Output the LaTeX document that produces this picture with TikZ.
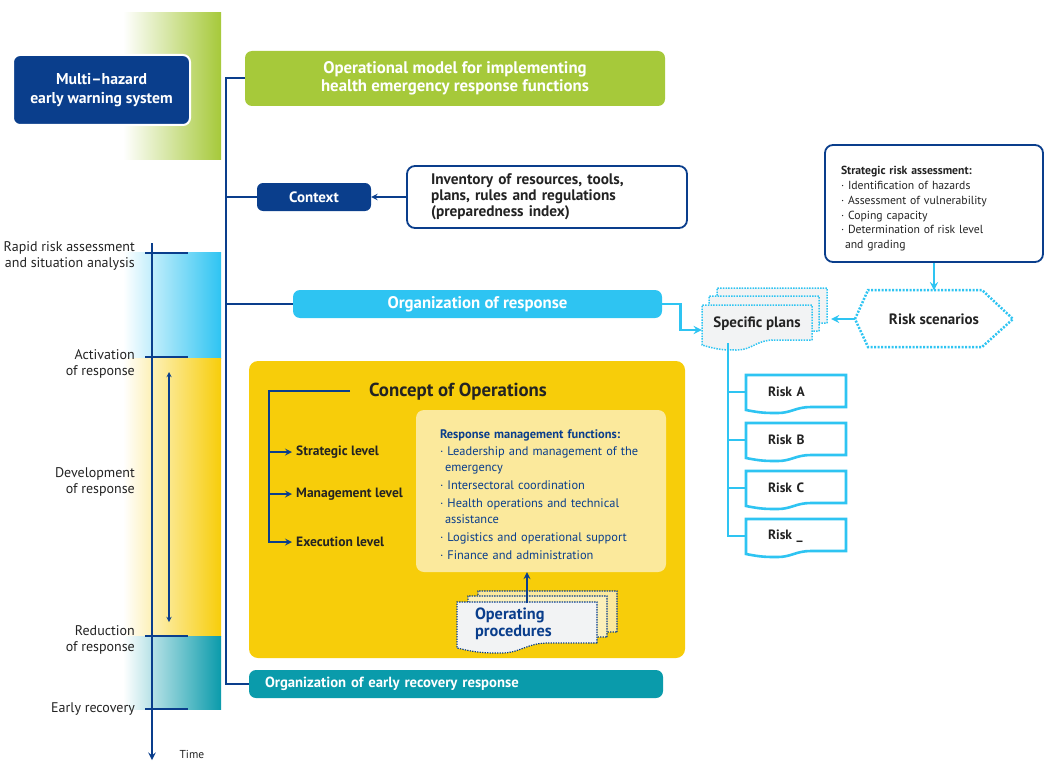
\documentclass[tikz,border=0pt]{standalone}
\usepackage{fontspec}
\setmainfont{PT Sans}
\usetikzlibrary{calc}

\definecolor{whoblue}{RGB}{10,62,140}
\definecolor{leafgreen}{RGB}{166,201,58}
\definecolor{skyblue}{RGB}{46,196,242}
\definecolor{sunyellow}{RGB}{247,205,10}
\definecolor{paleyellow}{RGB}{251,233,156}
\definecolor{seateal}{RGB}{10,155,171}
\definecolor{papergray}{RGB}{242,243,244}
\definecolor{inkgray}{RGB}{35,35,35}

\newcommand{\fsz}[2]{\fontsize{#1}{#2}\selectfont}

% document sheet with a wavy lower edge: style, x1, y1, x2, y2, depth
\newcommand{\wavydoc}[6]{%
  \draw[#1] (#4,#5) -- (#4,#3) -- (#2,#3) -- ({#2},{#5+0.5*#6})
    .. controls ({#2+0.15*(#4-#2)},{#5+#6}) and ({#2+0.2*(#4-#2)},{#5+#6}) .. ({#2+0.32*(#4-#2)},{#5+#6})
    .. controls ({#2+0.45*(#4-#2)},{#5+#6}) and ({#2+0.5*(#4-#2)},{#5}) .. ({#2+0.65*(#4-#2)},{#5})
    -- cycle;}

\begin{document}
\begin{tikzpicture}[x=1pt, y=-1pt, >=stealth,
    bandlabel/.style={anchor=east, align=right, font=\fsz{14}{16}, text=inkgray, inner sep=1pt},
    timetick/.style={whoblue, line width=2.5pt},
    trunk/.style={whoblue, line width=2pt},
    skyline/.style={skyblue, line width=2.6pt},
    bar/.style={rounded corners=7pt, text=white, font=\bfseries\fsz{16.8}{18}},
    outlinebox/.style={draw=whoblue, line width=1.8pt, fill=white, rounded corners=8pt, align=left, text=inkgray},
    riskdoc/.style={draw=skyblue, line width=2.6pt, fill=white},
    plansdoc/.style={draw=skyblue, line width=1.5pt, dash pattern=on 1.5pt off 1.2pt, fill=papergray},
    procdoc/.style={draw=whoblue, line width=1.2pt, dash pattern=on 1.3pt off 1.2pt},
    level/.style={anchor=west, inner xsep=4pt, font=\bfseries\fsz{13.5}{15}, text=inkgray}]

  \useasboundingbox (0,0) rectangle (1064,770);

  % Fasce colorate della linea del tempo
  \shade[left color=white, right color=leafgreen] (123,13) rectangle (221,160);
  \shade[left color=white, right color=skyblue] (123,252) rectangle (221,358);
  \shade[left color=white, right color=sunyellow] (123,358) rectangle (221,636);
  \shade[left color=white, right color=seateal] (123,636) rectangle (221,709);

  % Asse del tempo
  \coordinate (tTop) at (152,243);
  \coordinate (tBot) at (152,760);
  \draw[->, whoblue, line width=2.2pt] (tTop) -- (tBot);
  \foreach \ty in {253,357,636,709}
    \draw[timetick] (145,\ty) -- (188,\ty);
  \coordinate (devTop) at (169,372);
  \coordinate (devBot) at (169,622);
  \draw[<->, whoblue, line width=1.3pt] (devTop) -- (devBot);

  \node[bandlabel] (phRapid) at (136,256) {Rapid risk assessment\\and situation analysis};
  \node[bandlabel] (phAct) at (136,364) {Activation\\of response};
  \node[bandlabel] (phDev) at (136,482) {Development\\of response};
  \node[bandlabel] (phRed) at (136,640) {Reduction\\of response};
  \node[bandlabel] (phRec) at (136,709) {Early recovery};
  \node[font=\fsz{11.5}{13}, text=inkgray, anchor=west] (timelbl) at (176,754) {Time};

  % Sistema di allerta
  \node[fill=whoblue, draw=white, line width=2pt, rounded corners=7pt,
        minimum width=177pt, minimum height=70pt, text=white,
        font=\bfseries\fsz{15.7}{19}, align=center] (mhews) at (101.5,90)
        {Multi--hazard\\early warning system};

  % Blocchi principali
  \node[bar, fill=leafgreen, minimum width=420pt, minimum height=55pt, align=center,
        font=\bfseries\fsz{16.8}{18.5}] (model) at (455,78.5)
        {Operational model for implementing\\health emergency response functions};
  \node[bar, fill=whoblue, rounded corners=6pt, minimum width=114pt, minimum height=28pt,
        font=\bfseries\fsz{15}{16}] (context) at (314,197) {Context};
  \node[outlinebox, minimum width=280pt, minimum height=62pt, text width=232pt, inner xsep=24pt,
        font=\bfseries\fsz{15.3}{16}] (invent) at (547,197)
        {Inventory of resources, tools,\\plans, rules and regulations\\(preparedness index)};
  \node[bar, fill=skyblue, minimum width=369pt, minimum height=28pt] (orgresp) at (477.5,304)
        {Organization of response};
  \node[bar, fill=seateal, minimum width=414pt, minimum height=28pt, text width=382pt,
        inner xsep=16pt, align=left, font=\bfseries\fsz{14.7}{16}] (recov) at (456,684)
        {Organization of early recovery response};

  % Valutazione strategica del rischio
  \node[outlinebox, minimum width=218pt, minimum height=117pt, text width=186pt, inner xsep=16pt,
        font=\fsz{11.7}{14.8}] (sra) at (934,203.5)
        {\rule{0pt}{19pt}{\bfseries Strategic risk assessment:}\\
         · Identification of hazards\\
         · Assessment of vulnerability\\
         · Coping capacity\\
         · Determination of risk level\\
         \hspace*{4pt}and grading};

  % Scenari di rischio
  \draw[skyblue, line width=2.5pt, dash pattern=on 2pt off 1.5pt, fill=white]
    (855,319) -- (868,290) -- (982,290) -- (1013,319) -- (982,347) -- (868,347) -- cycle;
  \node[minimum width=158pt, minimum height=57pt, font=\bfseries\fsz{15}{16}, text=inkgray]
    (riskscen) at (934,319) {Risk scenarios};

  % Piani specifici
  \wavydoc{plansdoc}{717}{288}{827}{323}{10}
  \wavydoc{plansdoc}{709}{296}{819}{331}{10}
  \wavydoc{plansdoc}{702}{305}{812}{340}{10}
  \node[minimum width=110pt, minimum height=35pt, font=\bfseries\fsz{15}{16}, text=inkgray]
    (plans) at (757,324) {Specific plans};
  \coordinate (plansR) at (831,319);

  % Rischi
  \foreach \r/\lab [count=\i from 0] in {A/A, B/B, C/C, D/\_} {
    \wavydoc{riskdoc}{746}{375+48*\i}{846}{407+48*\i}{6}
    \node[minimum width=100pt, minimum height=32pt, text width=56pt, inner xsep=22pt, align=left,
          font=\bfseries\fsz{13.5}{15}, text=inkgray] (risk\r) at (796,392+48*\i) {Risk \lab};
  }

  % Concetto delle operazioni
  \node[fill=sunyellow, rounded corners=9pt, minimum width=436pt, minimum height=297pt]
    (conops) at (467,509.5) {};
  \node[font=\bfseries\fsz{18.8}{20}, text=inkgray] (contitle) at (458,392) {Concept of Operations};
  \node[level] (lvlS) at (292,452) {Strategic level};
  \node[level] (lvlM) at (292,494) {Management level};
  \node[level] (lvlE) at (292,542) {Execution level};

  \node[fill=paleyellow, rounded corners=8pt, minimum width=250pt, minimum height=162pt,
        text width=202pt, inner xsep=24pt, align=left, text=whoblue, font=\fsz{12.4}{15.8}]
    (rmf) at (541,491)
    {\rule{0pt}{16pt}{\bfseries Response management functions:}\\[1pt]
     · Leadership and management of the\\
     \hspace*{5pt}emergency\\[2.2pt]
     · Intersectoral coordination\\[2.2pt]
     · Health operations and technical\\
     \hspace*{5pt}assistance\\[2.2pt]
     · Logistics and operational support\\[2.2pt]
     · Finance and administration};

  % Procedure operative
  \wavydoc{procdoc, fill=paleyellow}{478}{591}{617}{632}{10}
  \wavydoc{procdoc, fill=paleyellow!70!white}{468}{596}{607}{637}{10}
  \wavydoc{procdoc, fill=papergray}{457}{602}{597}{643}{10}
  \node[minimum width=140pt, minimum height=41pt, text width=104pt, inner xsep=18pt, align=left,
        font=\bfseries\fsz{16.3}{16.5}, text=whoblue] (opproc) at (527,624) {Operating\\procedures};

  % Collegamenti
  \coordinate (trk) at (226,0);
  \draw[trunk] (model.west) -- (model.west -| trk) -- (recov.west -| trk) -- (recov.west);
  \draw[trunk] (context.west -| trk) -- (context.west);
  \draw[trunk] (orgresp.west -| trk) -- (orgresp.west);
  \draw[->, whoblue, line width=1.8pt] (invent.west) -- (context.east);

  \coordinate (brTop) at (350,391);
  \coordinate (brCorner) at (269,391);
  \draw[->, whoblue, line width=2pt] (brTop) -- (brCorner) |- (lvlE.west);
  \draw[->, whoblue, line width=2pt] (brCorner |- lvlS.west) -- (lvlS.west);
  \draw[->, whoblue, line width=2pt] (brCorner |- lvlM.west) -- (lvlM.west);
  \draw[->, whoblue, line width=2pt] (opproc.north) -- (opproc.north |- rmf.south);

  \draw[->, skyline] (orgresp.east) -- ++(18,0) |- ($(plans.west)+(0,6)$);
  \draw[->, skyline] (sra.south) -- (riskscen.north);
  \draw[->, skyline] (riskscen.west) -- (plansR);

  \coordinate (busTop) at (728,343);
  \draw[skyline] (busTop) |- (riskD.west);
  \foreach \r in {A,B,C}
    \draw[skyline] (busTop |- risk\r.west) -- (risk\r.west);

\end{tikzpicture}
\end{document}
